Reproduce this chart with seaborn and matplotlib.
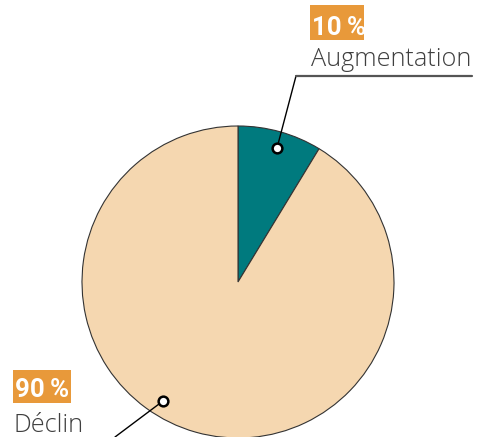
import matplotlib
matplotlib.use("Agg")
import matplotlib.pyplot as plt
from matplotlib.patches import Rectangle
import seaborn as sns

categories = ["Augmentation", "Déclin"]
shares = [8.7, 91.3]          # wedge sizes as drawn
pct_labels = ["10\u2009%", "90\u2009%"]
colors = ["#007A7E", "#F5D7B0"]

sns.set_theme(style="white")
plt.rcParams['font.family'] = ['Open Sans', 'DejaVu Sans']

W, H = 479, 437
fig = plt.figure(figsize=(W / 100, H / 100), dpi=100)
ax = fig.add_axes([0, 0, 1, 1])

def Y(y):
    return H - y

cx, cy, r = 238, 282, 156
ax.pie(shares, colors=colors, startangle=90, counterclock=False,
       center=(cx, Y(cy)), radius=r, frame=True,
       wedgeprops=dict(edgecolor="#333333", linewidth=0.8))
ax.set_xlim(0, W)
ax.set_ylim(0, H)
ax.set_aspect("equal")
ax.axis("off")

orange = "#E8993A"
label_grey = "#3F3F3F"
pct_font = ['Roboto', 'DejaVu Sans']

# Augmentation label
ax.plot([277, 296], [Y(148), Y(76)], color="black", lw=1.0, zorder=5)
ax.plot([296, 472], [Y(76), Y(76)], color="#555555", lw=1.6, zorder=5)
ax.plot([277], [Y(148)], marker="o", ms=7, mfc="white", mec="black", mew=1.8, zorder=6)
ax.add_patch(Rectangle((310, Y(40)), 54, 35, fc=orange, ec="none", zorder=4))
ax.text(312, Y(35), pct_labels[0], color="white", fontsize=18.5, fontweight="bold",
        family=pct_font, va="baseline", ha="left", zorder=5)
ax.text(311, Y(66), categories[0], color=label_grey, fontsize=18.2, fontweight="light",
        va="baseline", ha="left")

# Déclin label
ax.plot([163, 115], [Y(401), Y(437)], color="black", lw=1.0, zorder=5)
ax.plot([163], [Y(401)], marker="o", ms=7, mfc="white", mec="black", mew=1.8, zorder=6)
ax.add_patch(Rectangle((13, Y(403)), 58, 33, fc=orange, ec="none", zorder=4))
ax.text(15.5, Y(397), pct_labels[1], color="white", fontsize=18.5, fontweight="bold",
        family=pct_font, va="baseline", ha="left", zorder=5)
ax.text(14, Y(432), categories[1], color=label_grey, fontsize=18.2, fontweight="light",
        va="baseline", ha="left")

fig.savefig("out.png", dpi=100)
